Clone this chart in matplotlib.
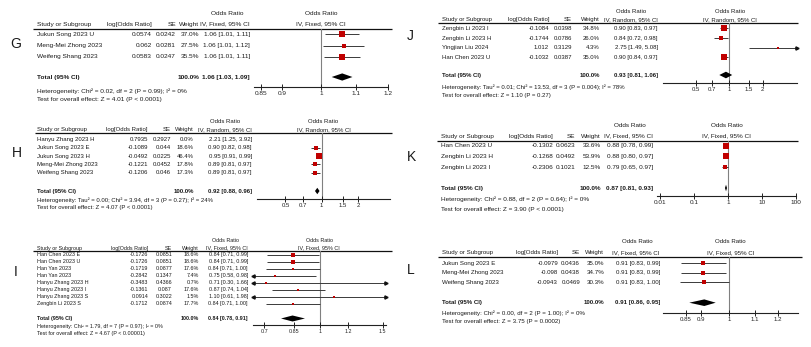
import numpy as np
import matplotlib
matplotlib.use("Agg")
import matplotlib.pyplot as plt
from matplotlib.ticker import FixedLocator, FixedFormatter, NullLocator

plt.rcParams['font.family'] = ['Liberation Sans', 'DejaVu Sans']

# ---------------- data ----------------
# G
g_study = ['Jukun Song 2023 U', 'Meng-Mei Zhong 2023', 'Weifeng Shang 2023']
g_log = [0.0574, 0.062, 0.0583]
g_se = [0.0242, 0.0281, 0.0247]
g_w = [37.0, 27.5, 35.5]
g_ci = ['1.06 [1.01, 1.11]', '1.06 [1.01, 1.12]', '1.06 [1.01, 1.11]']
g_total = (1.06, 1.03, 1.09)
g_het = 'Heterogeneity: Chi\u00b2 = 0.02, df = 2 (P = 0.99); I\u00b2 = 0%'
g_test = 'Test for overall effect: Z = 4.01 (P < 0.0001)'
g_ticks = [0.85, 0.9, 1, 1.1, 1.2]
g_ticklabels = ['0.85', '0.9', '1', '1.1', '1.2']

# J
j_study = ['Zengbin Li 2023 I', 'Zengbin Li 2023 H', 'Yingjian Liu 2024', 'Han Chen 2023 U']
j_log = [-0.1084, -0.1744, 1.012, -0.1032]
j_se = [0.0398, 0.0786, 0.3129, 0.0387]
j_w = [34.8, 26.0, 4.3, 35.0]
j_ci = ['0.90 [0.83, 0.97]', '0.84 [0.72, 0.98]', '2.75 [1.49, 5.08]', '0.90 [0.84, 0.97]']
j_total = (0.93, 0.81, 1.06)
j_het = 'Heterogeneity: Tau\u00b2 = 0.01; Chi\u00b2 = 13.53, df = 3 (P = 0.004); I\u00b2 = 78%'
j_test = 'Test for overall effect: Z = 1.10 (P = 0.27)'
j_ticks = [0.5, 0.7, 1, 1.5, 2]
j_ticklabels = ['0.5', '0.7', '1', '1.5', '2']

# H
h_study = ['Hanyu Zhang 2023 H', 'Jukun Song 2023 E', 'Jukun Song 2023 H',
           'Meng-Mei Zhong 2023', 'Weifeng Shang 2023']
h_log = [0.7935, -0.1089, -0.0492, -0.1221, -0.1206]
h_se = [0.2927, 0.044, 0.0225, 0.0452, 0.046]
h_w = [0.0, 18.6, 46.4, 17.8, 17.3]
h_ci = ['2.21 [1.25, 3.92]', '0.90 [0.82, 0.98]', '0.95 [0.91, 0.99]',
        '0.89 [0.81, 0.97]', '0.89 [0.81, 0.97]']
h_total = (0.92, 0.88, 0.96)
h_het = 'Heterogeneity: Tau\u00b2 = 0.00; Chi\u00b2 = 3.94, df = 3 (P = 0.27); I\u00b2 = 24%'
h_test = 'Test for overall effect: Z = 4.07 (P < 0.0001)'
h_ticks = [0.5, 0.7, 1, 1.5, 2]
h_ticklabels = ['0.5', '0.7', '1', '1.5', '2']

# K
k_study = ['Han Chen 2023 U', 'Zengbin Li 2023 H', 'Zengbin Li 2023 I']
k_log = [-0.1302, -0.1268, -0.2306]
k_se = [0.0623, 0.0492, 0.1021]
k_w = [33.6, 53.9, 12.5]
k_ci = ['0.88 [0.78, 0.99]', '0.88 [0.80, 0.97]', '0.79 [0.65, 0.97]']
k_total = (0.87, 0.81, 0.93)
k_het = 'Heterogeneity: Chi\u00b2 = 0.88, df = 2 (P = 0.64); I\u00b2 = 0%'
k_test = 'Test for overall effect: Z = 3.90 (P < 0.0001)'
k_ticks = [0.01, 0.1, 1, 10, 100]
k_ticklabels = ['0.01', '0.1', '1', '10', '100']

# I
i_study = ['Han Chen 2023 E', 'Han Chen 2023 U', 'Han Yan 2023', 'Han Yan 2023',
           'Hanyu Zhang 2023 H', 'Hanyu Zhang 2023 I', 'Hanyu Zhang 2023 S', 'Zengbin Li 2023 S']
i_log = [-0.1726, -0.1726, -0.1719, -0.2842, -0.3483, -0.1361, 0.0914, -0.1712]
i_se = [0.0851, 0.0851, 0.0877, 0.1347, 0.4366, 0.087, 0.3022, 0.0874]
i_w = [18.6, 18.6, 17.6, 7.4, 0.7, 17.6, 1.5, 17.7]
i_ci = ['0.84 [0.71, 0.99]', '0.84 [0.71, 0.99]', '0.84 [0.71, 1.00]', '0.75 [0.58, 0.98]',
        '0.71 [0.30, 1.66]', '0.87 [0.74, 1.04]', '1.10 [0.61, 1.98]', '0.84 [0.71, 1.00]']
i_total = (0.84, 0.78, 0.91)
i_het = 'Heterogeneity: Chi\u00b2 = 1.79, df = 7 (P = 0.97); I\u00b2 = 0%'
i_test = 'Test for overall effect: Z = 4.67 (P < 0.00001)'
i_ticks = [0.7, 0.85, 1, 1.2, 1.5]
i_ticklabels = ['0.7', '0.85', '1', '1.2', '1.5']

# L
l_study = ['Jukun Song 2023 E', 'Meng-Mei Zhong 2023', 'Weifeng Shang 2023']
l_log = [-0.0979, -0.098, -0.0943]
l_se = [0.0436, 0.0438, 0.0469]
l_w = [35.0, 34.7, 30.3]
l_ci = ['0.91 [0.83, 0.99]', '0.91 [0.83, 0.99]', '0.91 [0.83, 1.00]']
l_total = (0.91, 0.86, 0.95)
l_het = 'Heterogeneity: Chi\u00b2 = 0.00, df = 2 (P = 1.00); I\u00b2 = 0%'
l_test = 'Test for overall effect: Z = 3.75 (P = 0.0002)'
l_ticks = [0.85, 0.9, 1, 1.1, 1.2]
l_ticklabels = ['0.85', '0.9', '1', '1.1', '1.2']

panels = [
    dict(label='G', method='Fixed', study=g_study, log=g_log, se=g_se, w=g_w, ci=g_ci,
         total=g_total, het=g_het, test=g_test, ticks=g_ticks, ticklabels=g_ticklabels),
    dict(label='J', method='Random', study=j_study, log=j_log, se=j_se, w=j_w, ci=j_ci,
         total=j_total, het=j_het, test=j_test, ticks=j_ticks, ticklabels=j_ticklabels),
    dict(label='H', method='Random', study=h_study, log=h_log, se=h_se, w=h_w, ci=h_ci,
         total=h_total, het=h_het, test=h_test, ticks=h_ticks, ticklabels=h_ticklabels),
    dict(label='K', method='Fixed', study=k_study, log=k_log, se=k_se, w=k_w, ci=k_ci,
         total=k_total, het=k_het, test=k_test, ticks=k_ticks, ticklabels=k_ticklabels),
    dict(label='I', method='Fixed', study=i_study, log=i_log, se=i_se, w=i_w, ci=i_ci,
         total=i_total, het=i_het, test=i_test, ticks=i_ticks, ticklabels=i_ticklabels),
    dict(label='L', method='Fixed', study=l_study, log=l_log, se=l_se, w=l_w, ci=l_ci,
         total=l_total, het=l_het, test=l_test, ticks=l_ticks, ticklabels=l_ticklabels),
]

# ---------------- layout (pixels, y down) ----------------
layouts = {
    'G': dict(fs=4.65, lab=(16, 44), h1=13, h2=24, ly=29, lx=(33, 392), sx=37, lr=152, ser=176, wr=199,
              cir=250, y0=34.5, dy=11.2, ty=77, hy=91, tey=99.5, px=(254, 387.7), ay=87,
              xlim=(1 / 1.2, 1.2), dh=3.6, sq=0.85),
    'J': dict(fs=4.3, lab=(410, 36), h1=11, h2=19.5, ly=23.3, lx=(438, 798), sx=442, lr=549, ser=572,
              wr=600, cir=658, y0=28.5, dy=9.6, ty=75, hy=86.7, tey=95.7, px=(663, 797), ay=83,
              xlim=(0.25, 4.1), dh=3.3, sq=0.9),
    'H': dict(fs=4.3, lab=(17, 153), h1=121, h2=129.5, ly=132.7, lx=(35, 392), sx=37, lr=148, ser=171,
              wr=194, cir=252, y0=139.3, dy=8.35, ty=191, hy=200, tey=207.5, px=(257, 390), ay=199,
              xlim=(0.29, 3.7), dh=3.2, sq=0.85),
    'K': dict(fs=4.6, lab=(411, 157), h1=125.7, h2=136, ly=140.7, lx=(437, 798), sx=441, lr=553,
              ser=575, wr=601, cir=653, y0=145.5, dy=10.9, ty=188, hy=199.3, tey=209, px=(657, 796),
              ay=196, xlim=(0.008, 101), dh=3.3, sq=0.9),
    'I': dict(fs=3.9, lab=(16, 272), h1=240, h2=248, ly=251, lx=(33, 392), sx=37, lr=148, ser=172,
              wr=199, cir=248, y0=254.5, dy=7.06, ty=318.5, hy=326.7, tey=333.3, px=(252.7, 385.7),
              ay=325, xlim=(0.65, 1.53), dh=3.0, sq=0.7),
    'L': dict(fs=4.4, lab=(411, 270), h1=241.7, h2=252.7, ly=257.3, lx=(438, 801.7), sx=442, lr=558,
              ser=580, wr=604, cir=660, y0=263.3, dy=9.5, ty=302.7, hy=312.7, tey=321.7, px=(663, 798),
              ay=313, xlim=(0.779, 1.295), dh=3.3, sq=0.8),
}

W, H = 811, 347
TC = '#1a1a1a'
RED = '#C00000'

fig = plt.figure(figsize=(W / 100, H / 100), dpi=100)
bg = fig.add_axes([0, 0, 1, 1])
bg.set_xlim(0, W)
bg.set_ylim(H, 0)
bg.axis('off')


def txt(x, y, s, size, ha='left', bold=False):
    bg.text(x, y, s, ha=ha, va='center', fontsize=size, color=TC,
            fontweight='bold' if bold else 'normal')


for p in panels:
    L = layouts[p['label']]
    fs = L['fs']
    cihdr = 'IV, %s, 95%% CI' % p['method']
    pmid = (L['px'][0] + L['px'][1]) / 2

    txt(L['lab'][0], L['lab'][1], p['label'], 10, ha='center')

    # headers
    txt(L['cir'] - (23 if p['method'] == 'Fixed' else 27), L['h1'], 'Odds Ratio', fs, ha='center')
    txt(pmid, L['h1'], 'Odds Ratio', fs, ha='center')
    txt(L['sx'], L['h2'], 'Study or Subgroup', fs)
    txt(L['lr'], L['h2'], 'log[Odds Ratio]', fs, ha='right')
    txt(L['ser'], L['h2'], 'SE', fs, ha='right')
    txt(L['wr'], L['h2'], 'Weight', fs, ha='right')
    txt(L['cir'], L['h2'], cihdr, fs, ha='right')
    txt(pmid, L['h2'], cihdr, fs, ha='center')
    bg.plot(L['lx'], [L['ly'], L['ly']], color='#111111', lw=0.9, solid_capstyle='butt')

    # study rows
    ys = L['y0'] + L['dy'] * np.arange(len(p['study']))
    for y, s, lg, se, w, ci in zip(ys, p['study'], p['log'], p['se'], p['w'], p['ci']):
        txt(L['sx'], y, s, fs)
        txt(L['lr'], y, str(lg), fs, ha='right')
        txt(L['ser'], y, str(se), fs, ha='right')
        txt(L['wr'], y, '%.1f%%' % w, fs, ha='right')
        txt(L['cir'], y, ci, fs, ha='right')

    # total + footer
    txt(L['sx'], L['ty'], 'Total (95% CI)', fs, bold=True)
    txt(L['wr'], L['ty'], '100.0%', fs, ha='right', bold=True)
    tor, tlo, thi = p['total']
    txt(L['cir'], L['ty'], '%.2f [%.2f, %.2f]' % (tor, tlo, thi), fs, ha='right', bold=True)
    txt(L['sx'], L['hy'], p['het'], fs)
    txt(L['sx'], L['tey'], p['test'], fs)

    # forest axes
    x0, x1 = L['px']
    ax = fig.add_axes([x0 / W, 1 - L['ay'] / H, (x1 - x0) / W, (L['ay'] - L['ly']) / H])
    ax.set_xscale('log')
    ax.set_xlim(*L['xlim'])
    ax.set_ylim(L['ay'], L['ly'])
    ax.patch.set_visible(False)
    for sp in ['top', 'left', 'right']:
        ax.spines[sp].set_visible(False)
    ax.spines['bottom'].set_linewidth(0.8)
    ax.spines['bottom'].set_color('#222222')
    ax.set_yticks([])
    ax.xaxis.set_major_locator(FixedLocator(p['ticks']))
    ax.xaxis.set_major_formatter(FixedFormatter(p['ticklabels']))
    ax.xaxis.set_minor_locator(NullLocator())
    ax.tick_params(axis='x', direction='inout', length=4, width=0.7, pad=1.2,
                   labelsize=fs, colors='#222222')
    ax.axvline(1, color='#808080', lw=0.8, zorder=1)

    lg = np.array(p['log'])
    se = np.array(p['se'])
    w = np.array(p['w'])
    orv = np.exp(lg)
    lo = np.exp(lg - 1.96 * se)
    hi = np.exp(lg + 1.96 * se)
    xa, xb = L['xlim']
    for y, o, a, b, wt in zip(ys, orv, lo, hi, w):
        if wt <= 0:
            continue
        ax.hlines(y, max(a, xa), min(b, xb), color='#3a3a3a', lw=0.7, zorder=2)
        if a < xa:
            ax.plot(xa, y, marker='<', ms=2.3, color='#111111', clip_on=False, zorder=3)
        if b > xb:
            ax.plot(xb, y, marker='>', ms=2.3, color='#111111', clip_on=False, zorder=3)
        side = max(L['sq'] * np.sqrt(wt), 1.3) * 0.72
        ax.scatter([o], [y], marker='s', s=side ** 2, color=RED, linewidths=0, zorder=4)

    dh = L['dh']
    ax.fill([tlo, tor, thi, tor], [L['ty'], L['ty'] - dh, L['ty'], L['ty'] + dh],
            color='black', lw=0, zorder=4)

fig.savefig('out.png', dpi=100)
